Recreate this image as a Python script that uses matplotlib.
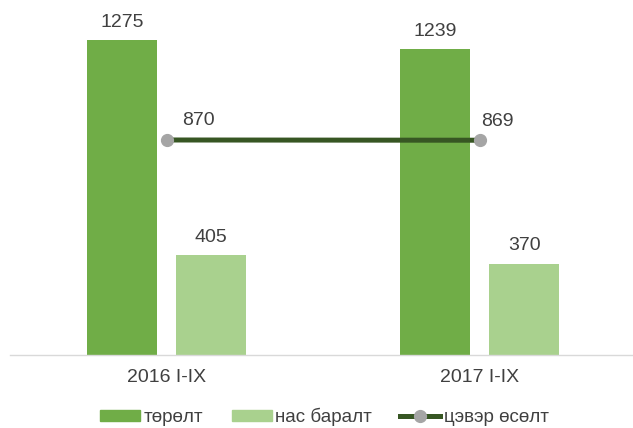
import matplotlib
matplotlib.use("Agg")
import matplotlib.pyplot as plt
import numpy as np
from matplotlib.lines import Line2D
from matplotlib.patches import Patch

# data
categories = ["2016 I-IX", "2017 I-IX"]
births = [1275, 1239]
deaths = [405, 370]
net_growth = [870, 869]

plt.rcParams["font.family"] = ["Liberation Sans", "DejaVu Sans"]
text_color = "#404040"
c_birth = "#70AD47"
c_death = "#A9D18E"
c_line = "#375623"
c_marker = "#A5A5A5"

fig = plt.figure(figsize=(6.33, 4.28), dpi=100)
ax = fig.add_axes([10 / 633, 1 - 355 / 428, 623 / 633, 346 / 428])

x = np.arange(len(categories))
w = 0.224
off = 0.142
b1 = ax.bar(x - off, births, w, color=c_birth, zorder=2)
b2 = ax.bar(x + off, deaths, w, color=c_death, zorder=2)
ax.plot(x, net_growth, color=c_line, lw=3.6, marker="o", ms=8.5,
        mfc=c_marker, mec=c_marker, zorder=3, solid_capstyle="butt")

for rects, vals in [(b1, births), (b2, deaths)]:
    for r, v in zip(rects, vals):
        ax.annotate(str(v), (r.get_x() + r.get_width() / 2, v),
                    xytext=(0, 9.5), textcoords="offset points",
                    ha="center", va="baseline", fontsize=14, color=text_color)

line_offsets = [(23, 10.5), (13, 10.5)]
for xi, v, (dx, dy) in zip(x, net_growth, line_offsets):
    ax.annotate(str(v), (xi, v), xytext=(dx, dy), textcoords="offset points",
                ha="center", va="baseline", fontsize=14, color=text_color)

ax.set_xlim(-0.5, 1.49)
ax.set_ylim(0, 1400)
ax.set_xticks(x)
ax.set_xticklabels(categories, fontsize=14, color=text_color)
ax.tick_params(axis="x", length=0, pad=10)
ax.set_yticks([])
for s in ["top", "left", "right"]:
    ax.spines[s].set_visible(False)
ax.spines["bottom"].set_color("#D9D9D9")
ax.spines["bottom"].set_linewidth(1)

handles = [
    Patch(color=c_birth),
    Patch(color=c_death),
    Line2D([], [], color=c_line, lw=3.6, marker="o", ms=8.5, mfc=c_marker, mec=c_marker),
]
labels = ["төрөлт", "нас баралт", "цэвэр өсөлт"]
leg = fig.legend(handles, labels, loc="center", bbox_to_anchor=(0.513, 1 - 417 / 428),
                 ncol=3, frameon=False, fontsize=13.5, handlelength=2.13, handleheight=0.5,
                 handletextpad=0.2, columnspacing=1.5, borderpad=0.2)
for t in leg.get_texts():
    t.set_color(text_color)

fig.savefig("out.png", dpi=100)
